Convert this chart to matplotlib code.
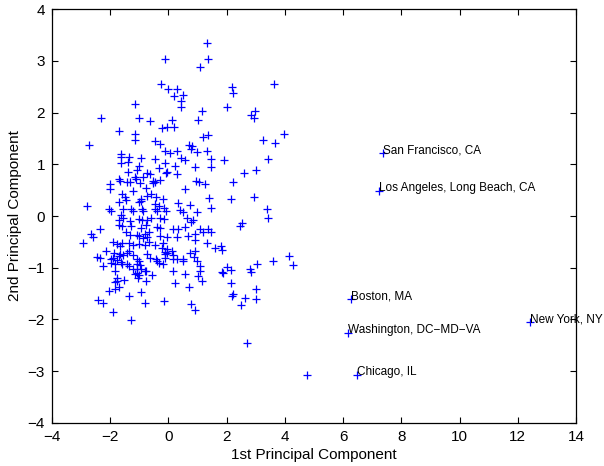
import matplotlib
matplotlib.use("Agg")
import matplotlib.pyplot as plt

plt.rcParams['font.family'] = ['Liberation Sans', 'DejaVu Sans']

# (pc1, pc2) scores
points = [
    (-0.12, 3.03), (-0.25, 2.55), (-0.03, 2.46), (0.28, 2.46), (0.20, 2.33), (-1.14, 2.17), (-2.31, 1.90),
    (-1.00, 1.90), (-0.63, 1.84), (0.13, 1.85), (-0.23, 1.70), (-0.04, 1.72), (0.20, 1.72), (-1.69, 1.64),
    (1.34, 3.34), (1.36, 3.04), (1.07, 2.88), (2.19, 2.50), (2.21, 2.39), (3.64, 2.55), (0.51, 2.34),
    (0.43, 2.23), (0.43, 2.11), (2.02, 2.11), (1.16, 2.04), (1.03, 1.86), (2.97, 2.03), (2.84, 1.95), (2.94, 1.90),
    (-1.14, 1.59), (-1.14, 1.48), (-2.74, 1.38), (-0.46, 1.46), (-0.29, 1.39), (-0.12, 1.25), (0.05, 1.21),
    (0.30, 1.26), (-1.63, 1.20), (-1.63, 1.14), (-1.63, 1.02), (-1.34, 1.15), (-1.40, 1.05), (-0.93, 1.12),
    (-0.47, 1.10), (-0.13, 1.03), (0.24, 0.97), (-1.00, 0.97), (-1.07, 0.89), (-0.33, 0.92), (-0.04, 0.86),
    (-0.08, 0.84), (-1.38, 0.85), (-0.73, 0.84), (-0.63, 0.81), (0.30, 0.81), (-1.71, 0.72), (-1.66, 0.68),
    (-1.16, 0.76), (-1.11, 0.71), (-0.88, 0.75), (-0.98, 0.63), (-1.43, 0.66), (-1.32, 0.66), (-0.54, 0.68),
    (-0.46, 0.66), (-0.52, 0.63), (-0.29, 0.69), (-2.01, 0.62), (-2.01, 0.52), (-1.21, 0.48), (-0.77, 0.55),
    (-0.59, 0.43), (-1.60, 0.43), (-1.48, 0.37), (-1.46, 0.31), (-1.71, 0.28), (-0.95, 0.32), (-0.93, 0.30),
    (-1.00, 0.27), (-0.73, 0.39), (-0.43, 0.36), (-0.20, 0.33), (-0.45, 0.23), (-0.33, 0.19), (0.33, 0.26),
    (-2.79, 0.19), (-2.03, 0.14), (-1.98, 0.10), (-1.55, 0.14), (-1.30, 0.13), (-1.23, 0.10), (-0.92, 0.14),
    (-0.88, 0.10), (-0.45, 0.14), (-0.40, 0.10), (-0.15, 0.15), (-0.08, 0.10), (-0.59, -0.03), (-0.29, -0.04),
    (-0.15, -0.05), (-1.64, 0.01), (-1.55, -0.03), (-1.71, -0.08), (-1.69, -0.17), (-1.60, -0.19), (-1.32, -0.09),
    (-1.28, -0.19), (-1.02, -0.05), (-0.91, -0.08), (-0.75, -0.08), (-0.77, -0.18), (-0.93, -0.23), (-0.40, -0.21),
    (-0.29, -0.23), (-2.35, -0.25), (0.17, -0.25), (0.33, -0.26),
    (1.20, 1.52), (1.36, 1.56), (3.97, 1.59), (3.24, 1.48), (3.67, 1.41), (0.72, 1.38), (0.81, 1.35), (0.76, 1.29),
    (0.97, 1.24), (1.31, 1.26), (0.44, 1.12), (0.56, 1.08), (1.45, 1.10), (1.47, 0.94), (1.91, 1.08), (3.42, 1.10),
    (0.90, 0.95), (2.60, 0.84), (3.01, 0.89), (0.95, 0.67), (1.04, 0.66), (1.25, 0.62), (2.23, 0.66), (0.58, 0.53),
    (1.38, 0.35), (2.14, 0.32), (2.94, 0.37), (0.74, 0.21), (1.47, 0.15), (3.40, 0.13), (0.40, 0.12), (0.49, 0.08),
    (0.99, 0.08), (0.65, -0.03), (0.85, -0.08), (0.79, -0.12), (3.42, -0.04), (2.53, -0.13), (2.46, -0.19),
    (0.56, -0.21), (1.08, -0.26), (1.36, -0.26),
    (-2.65, -0.34), (-2.58, -0.41), (-2.92, -0.52), (-1.46, -0.31), (-1.32, -0.36), (-1.09, -0.36), (-1.02, -0.39),
    (-0.86, -0.43), (-0.79, -0.35), (-0.68, -0.31), (-0.72, -0.41), (-0.29, -0.39), (-0.04, -0.41), (0.28, -0.41),
    (-1.89, -0.50), (-1.78, -0.54), (-1.60, -0.53), (-1.66, -0.58), (-1.37, -0.52), (-1.23, -0.56), (-1.00, -0.54),
    (-0.79, -0.56), (-0.68, -0.50), (-0.45, -0.57), (-0.18, -0.52), (-0.22, -0.62), (-0.04, -0.63), (0.12, -0.68),
    (-0.11, -0.70), (-0.13, -0.74), (-2.14, -0.67), (-1.87, -0.71), (-1.66, -0.74), (-1.71, -0.77), (-1.57, -0.76),
    (-1.43, -0.72), (-1.34, -0.67), (-1.23, -0.75), (-2.47, -0.79), (-2.35, -0.81), (-2.24, -0.96), (-1.96, -0.84),
    (-1.89, -0.81), (-1.78, -0.85), (-1.64, -0.89), (-1.96, -0.90), (-1.82, -0.92), (-1.60, -0.93), (-1.09, -0.83),
    (-1.02, -0.87), (-1.09, -0.92), (-0.98, -0.94), (-1.43, -0.92), (-1.34, -0.97), (-0.72, -0.74), (-0.63, -0.81),
    (-0.43, -0.83), (-0.40, -0.88), (-0.31, -0.90), (-0.18, -0.92), (-0.13, -0.81), (-0.06, -0.72), (0.17, -0.76),
    (0.17, -0.83), (0.28, -0.83), (-1.23, -1.02), (-1.09, -1.02), (-0.93, -1.03), (-0.79, -1.06), (-1.07, -1.10),
    (-1.14, -1.12), (-1.02, -1.15), (-1.05, -1.20), (-0.77, -1.07), (-0.56, -1.14), (0.17, -1.06), (-1.85, -1.07),
    (-1.78, -1.19), (-1.78, -1.25), (-1.85, -1.28), (-1.53, -1.23), (-0.77, -1.25), (0.24, -1.30), (-2.03, -1.46),
    (-1.82, -1.41), (-1.71, -1.37), (-0.93, -1.47), (-1.37, -1.54), (-2.42, -1.63), (-2.24, -1.69), (-0.79, -1.69),
    (-0.15, -1.64), (-1.89, -1.85), (-1.30, -2.01),
    (0.67, -0.39), (0.92, -0.34), (1.20, -0.30), (1.45, -0.31), (0.90, -0.47), (1.31, -0.53), (1.61, -0.62),
    (1.80, -0.58), (1.84, -0.66), (0.74, -0.72), (0.90, -0.68), (0.88, -0.79), (0.97, -0.88), (0.49, -0.84),
    (0.49, -0.88), (1.08, -0.97), (1.08, -1.07), (1.02, -1.16), (1.15, -1.25), (0.58, -1.12), (2.02, -0.98),
    (2.16, -1.05), (1.84, -1.08), (1.88, -1.11), (2.80, -1.03), (2.85, -1.08), (3.03, -0.93), (3.58, -0.87),
    (4.13, -0.77), (4.29, -0.95), (2.14, -1.30), (0.72, -1.38), (2.23, -1.50), (2.18, -1.54), (3.01, -1.41),
    (2.62, -1.58), (3.01, -1.60), (2.50, -1.73), (0.76, -1.70), (0.90, -1.81), (2.69, -2.45), (4.75, -3.08),
]
pc1 = [p[0] for p in points]
pc2 = [p[1] for p in points]

city_names = ['San Francisco, CA', 'Los Angeles, Long Beach, CA', 'Boston, MA',
              'Washington, DC-MD-VA', 'Chicago, IL', 'New York, NY']
city_pc1 = [7.36, 7.22, 6.27, 6.17, 6.47, 12.42]
city_pc2 = [1.22, 0.48, -1.61, -2.26, -3.08, -2.05]

fig = plt.figure(figsize=(6.04, 4.66), dpi=100)
ax = fig.add_axes([0.0861, 0.0929, 0.8675, 0.8871])

ax.plot(pc1 + city_pc1, pc2 + city_pc2, '+', color='blue', markersize=5.5, markeredgewidth=0.9)

for name, x, y in zip(city_names, city_pc1, city_pc2):
    ax.annotate(name.replace('-', '\u2212'), (x, y), xytext=(0, 2), textcoords='offset points',
                ha='left', va='center', fontsize=8.5, annotation_clip=False)

ax.set_xlim(-4, 14)
ax.set_ylim(-4, 4)
ax.set_xticks(range(-4, 15, 2))
ax.set_yticks(range(-4, 5, 1))
ax.tick_params(direction='in', top=True, right=True, length=4, width=0.8, labelsize=11, pad=5)
for s in ax.spines.values():
    s.set_linewidth(0.9)
ax.set_xlabel('1st Principal Component', fontsize=11, labelpad=3)
ax.set_ylabel('2nd Principal Component', fontsize=11, labelpad=4)

fig.savefig('out.png', dpi=100)
